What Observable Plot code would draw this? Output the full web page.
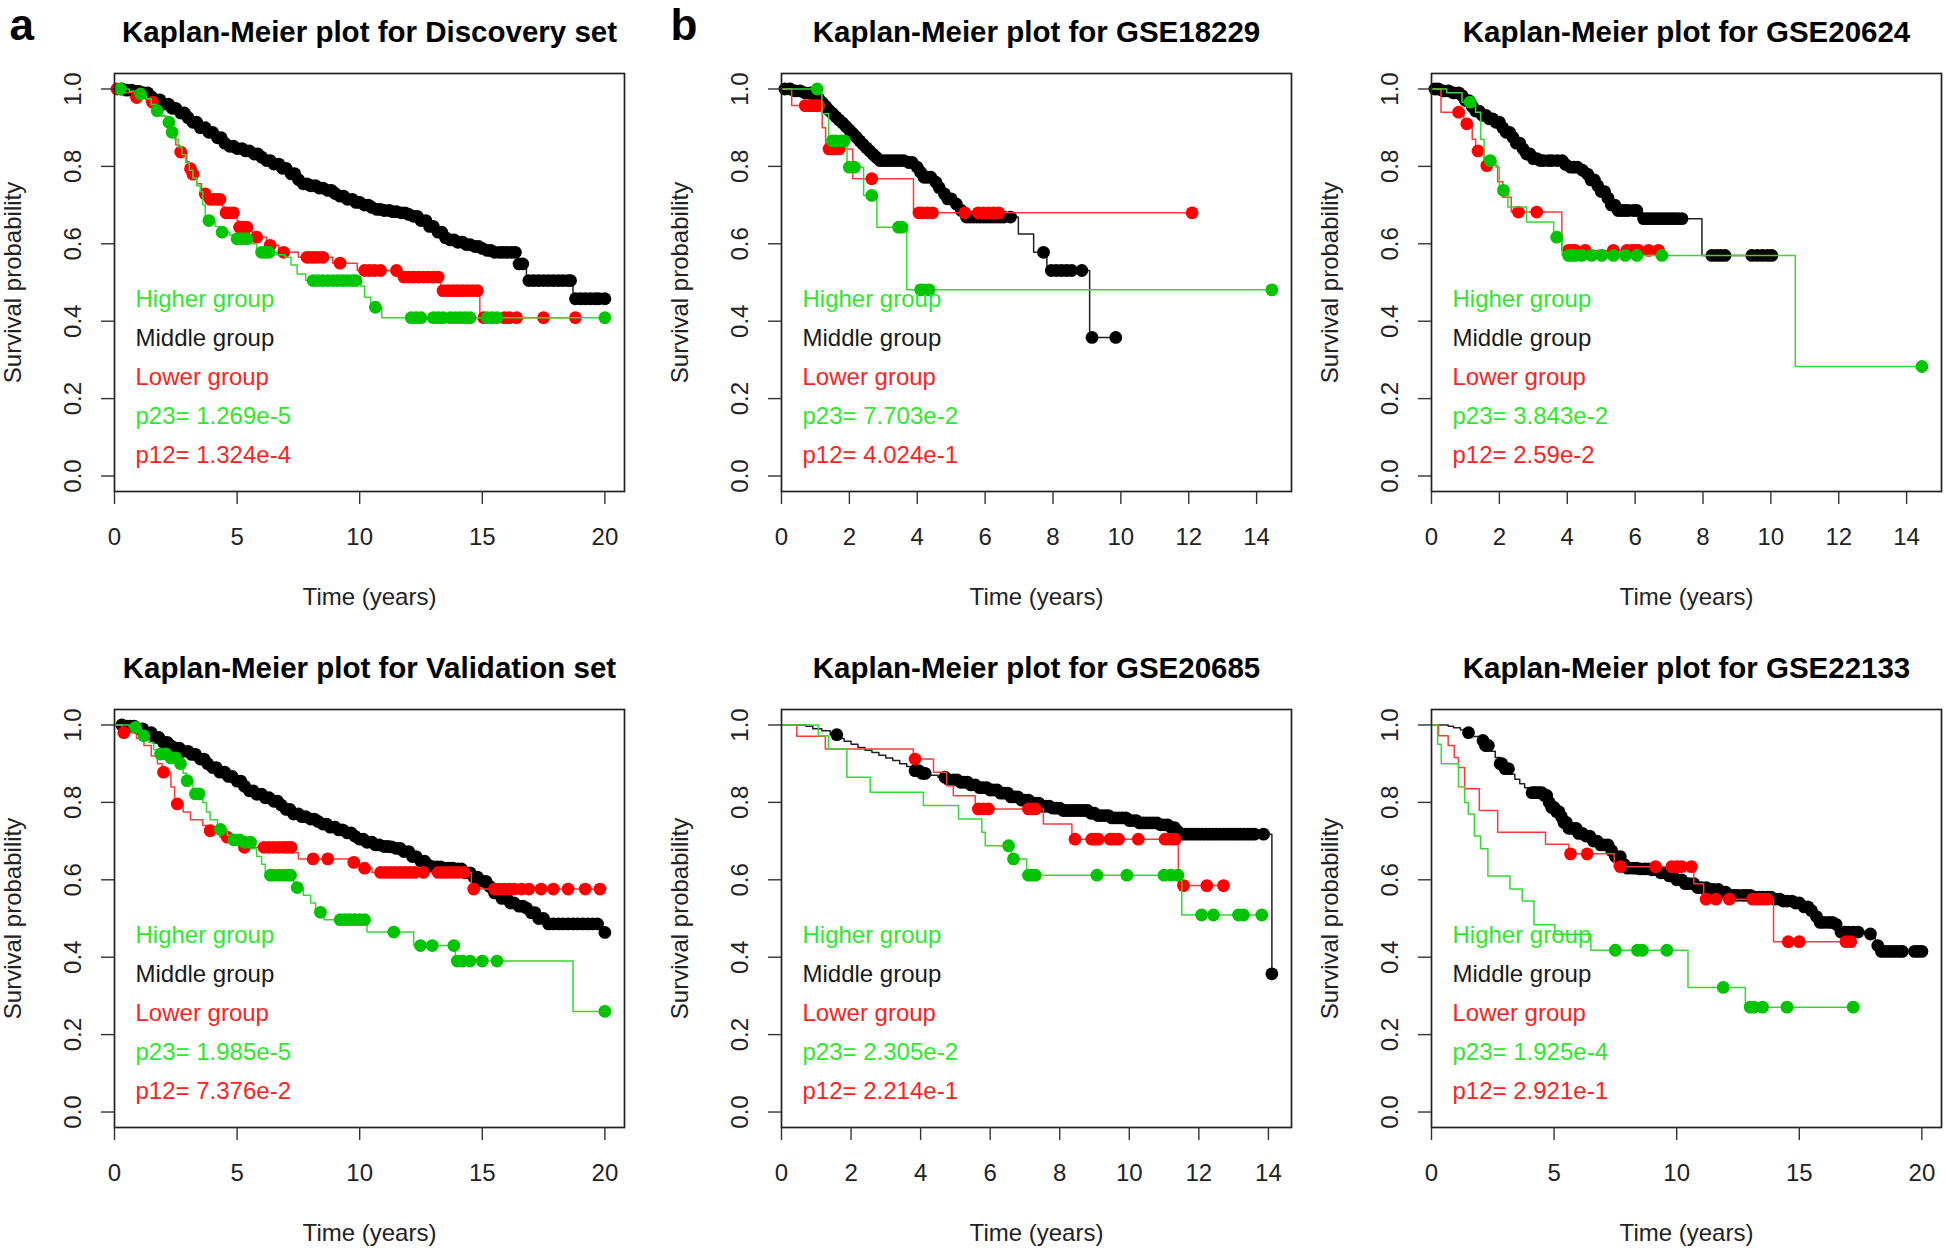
<!DOCTYPE html>
<html>
<head>
<meta charset="utf-8">
<script src="https://cdn.jsdelivr.net/npm/d3@7"></script>
<script src="https://cdn.jsdelivr.net/npm/@observablehq/plot@0.6"></script>
<style>
  body { margin: 0; background: #fff; }
  #page { position: relative; width: 1946px; height: 1250px; overflow: hidden; background: #fff;
          font-family: "Liberation Sans", Arial, Helvetica, sans-serif; }
  .panel { position: absolute; }
</style>
</head>
<body>
<div id="page"></div>
<script>
// ---------------- text / ticks ----------------
const panelTitles = [
  "Kaplan-Meier plot for Discovery set",
  "Kaplan-Meier plot for GSE18229",
  "Kaplan-Meier plot for GSE20624",
  "Kaplan-Meier plot for Validation set",
  "Kaplan-Meier plot for GSE20685",
  "Kaplan-Meier plot for GSE22133"
];
const panelTags = ["a", "b", "", "", "", ""];
const groupLabels = ["Higher group", "Middle group", "Lower group"];
const p23Values = ["1.269e-5", "7.703e-2", "3.843e-2", "1.985e-5", "2.305e-2", "1.925e-4"];
const p12Values = ["1.324e-4", "4.024e-1", "2.59e-2", "7.376e-2", "2.214e-1", "2.921e-1"];
const yTicks = [0, 0.2, 0.4, 0.6, 0.8, 1.0];
const xTicks20 = [0, 5, 10, 15, 20];
const xTicks14 = [0, 2, 4, 6, 8, 10, 12, 14];
const maxTimes = [20, 14.45, 14.45, 20, 14.1, 20];

// ---------------- survival curves: [time, survival after step] ----------------
// Discovery set
const discHigh = [[0,1],[0.6,0.994],[0.9,0.987],[1.3,0.975],[1.5,0.96],[1.7,0.944],[1.95,0.93],[2.1,0.914],[2.3,0.888],[2.45,0.87],[2.6,0.85],[2.75,0.83],[2.9,0.81],[3.05,0.79],[3.2,0.77],[3.35,0.75],[3.5,0.735],[3.6,0.7],[3.7,0.66],[4.1,0.645],[4.3,0.63],[4.7,0.622],[4.9,0.613],[5.6,0.6],[5.8,0.578],[6.6,0.572],[6.95,0.565],[7.2,0.545],[7.45,0.522],[7.8,0.505],[10.05,0.49],[10.2,0.462],[10.45,0.436],[10.9,0.409],[20,0.409]];
const discHighCens = [0.24,1.06,1.74,2.22,2.35,3.85,4.39,5.0,5.2,5.4,6.0,6.15,6.3,8.1,8.3,8.5,8.7,8.9,9.1,9.3,9.5,9.7,9.85,10.64,12.1,12.3,12.5,13.0,13.2,13.4,13.7,13.9,14.1,14.3,14.5,15.2,15.4,15.6,20.0];
const discLow = [[0,1],[0.3,0.99],[0.8,0.978],[1.3,0.966],[1.7,0.95],[1.9,0.93],[2.1,0.905],[2.3,0.88],[2.5,0.855],[2.65,0.837],[2.95,0.812],[3.05,0.794],[3.15,0.78],[3.35,0.755],[3.55,0.729],[3.8,0.715],[4.4,0.695],[4.5,0.68],[5.0,0.66],[5.05,0.643],[5.6,0.63],[5.7,0.617],[6.2,0.596],[6.7,0.578],[7.5,0.565],[8.9,0.55],[9.9,0.531],[11.7,0.514],[13.3,0.479],[14.9,0.409],[18.8,0.409]];
const discLowCens = [0.1,0.9,1.55,2.7,3.1,3.2,3.7,3.9,4.05,4.2,4.3,4.55,4.7,4.85,5.1,5.25,5.4,5.8,6.35,6.9,7.85,8.0,8.15,8.3,8.5,9.2,10.2,10.4,10.6,10.85,11.5,11.8,12.0,12.2,12.4,12.6,12.8,13.0,13.2,13.4,13.6,13.8,14.0,14.2,14.4,14.6,14.8,15.06,15.9,16.1,16.4,17.5,18.8];
const discMid = [[0,1],[0.5,0.997],[0.8,0.994],[1.1,0.99],[1.4,0.98],[1.7,0.972],[2.0,0.961],[2.3,0.95],[2.6,0.938],[2.9,0.926],[3.2,0.914],[3.5,0.9],[3.8,0.888],[4.1,0.874],[4.4,0.86],[4.7,0.852],[5.0,0.846],[5.3,0.84],[5.6,0.832],[5.9,0.824],[6.2,0.815],[6.5,0.806],[6.8,0.795],[7.1,0.781],[7.4,0.766],[7.7,0.755],[8.0,0.75],[8.3,0.744],[8.6,0.738],[8.9,0.73],[9.2,0.723],[9.5,0.715],[9.8,0.707],[10.1,0.7],[10.4,0.694],[10.7,0.689],[11.0,0.686],[11.3,0.683],[11.6,0.68],[11.9,0.676],[12.2,0.671],[12.5,0.66],[12.8,0.645],[13.1,0.63],[13.4,0.616],[13.7,0.61],[14.0,0.604],[14.3,0.598],[14.6,0.593],[14.9,0.588],[15.2,0.583],[15.5,0.578],[16.45,0.548],[16.8,0.505],[18.7,0.458],[20,0.458]];
const discMidCens = [0.3,0.5,0.7,0.85,1.0,1.2,1.35,1.5,1.7,1.85,2.0,2.2,2.35,2.5,2.7,2.85,3.0,3.2,3.35,3.5,3.7,3.85,4.0,4.2,4.35,4.5,4.7,4.85,5.0,5.2,5.35,5.5,5.7,5.85,6.0,6.2,6.35,6.5,6.7,6.85,7.0,7.2,7.35,7.5,7.7,7.85,8.0,8.2,8.35,8.5,8.7,8.85,9.0,9.2,9.35,9.5,9.7,9.85,10.0,10.2,10.35,10.5,10.7,10.85,11.0,11.2,11.35,11.5,11.7,11.85,12.0,12.2,12.35,12.5,12.7,12.85,13.0,13.2,13.35,13.5,13.7,13.85,14.0,14.2,14.35,14.5,14.7,14.85,15.0,15.2,15.35,15.5,15.7,15.85,16.0,16.2,16.35,16.5,16.65,16.9,17.1,17.3,17.5,17.7,17.9,18.1,18.3,18.5,18.6,18.8,19.0,19.2,19.4,19.6,19.75,20.0];

// GSE18229
const g18229High = [[0,1],[1.19,0.936],[1.39,0.866],[1.93,0.798],[2.42,0.725],[2.81,0.643],[3.69,0.481],[14.45,0.481]];
const g18229HighCens = [1.05,1.5,1.6,1.75,1.85,2.0,2.15,2.66,3.45,3.55,4.1,4.2,4.35,14.45];
const g18229Low = [[0,1],[0.3,0.957],[1.2,0.9],[1.3,0.845],[2.1,0.768],[3.89,0.68],[12.1,0.68]];
const g18229LowCens = [0.7,0.8,0.9,1.0,1.1,1.4,1.5,1.6,1.7,2.66,4.05,4.15,4.3,4.45,5.4,5.8,5.95,6.1,6.25,6.4,12.1];
const g18229Mid = [[0,1],[0.4,0.995],[0.7,0.99],[0.9,0.985],[1.05,0.975],[1.2,0.965],[1.3,0.955],[1.4,0.945],[1.5,0.937],[1.6,0.928],[1.7,0.92],[1.8,0.912],[1.9,0.903],[2.0,0.894],[2.1,0.885],[2.2,0.876],[2.3,0.866],[2.4,0.857],[2.5,0.848],[2.6,0.84],[2.7,0.831],[2.8,0.823],[2.9,0.815],[3.7,0.81],[3.95,0.798],[4.05,0.785],[4.15,0.772],[4.5,0.759],[4.62,0.745],[4.72,0.729],[4.9,0.716],[5.1,0.703],[5.25,0.686],[5.4,0.669],[6.98,0.625],[7.43,0.578],[7.82,0.531],[9.08,0.358],[9.88,0.358]];
const g18229MidCens = [0.1,0.25,0.4,0.55,0.7,0.85,0.95,1.1,1.2,1.3,1.4,1.5,1.6,1.7,1.8,1.9,2.0,2.1,2.2,2.3,2.4,2.5,2.6,2.7,2.8,2.9,3.0,3.1,3.2,3.3,3.4,3.5,3.6,3.75,3.85,4.0,4.1,4.2,4.3,4.4,4.55,4.65,4.8,4.9,5.0,5.15,5.3,5.45,5.55,5.65,5.75,5.85,5.95,6.05,6.15,6.25,6.35,6.45,6.55,6.75,7.72,7.95,8.1,8.25,8.4,8.55,8.85,9.15,9.85];

// GSE20624
const g20624High = [[0,1],[0.45,0.99],[0.9,0.966],[1.3,0.94],[1.45,0.87],[1.55,0.815],[1.9,0.798],[2.0,0.738],[2.25,0.695],[2.8,0.656],[3.6,0.617],[3.85,0.57],[10.72,0.283],[14.45,0.283]];
const g20624HighCens = [1.14,1.73,2.12,3.69,4.04,4.15,4.25,4.43,4.72,5.02,5.36,5.71,6.05,6.79,14.45];
const g20624Low = [[0,1],[0.28,0.94],[0.95,0.91],[1.2,0.87],[1.3,0.84],[1.55,0.802],[1.95,0.76],[2.1,0.72],[2.35,0.682],[3.84,0.583],[6.7,0.583]];
const g20624LowCens = [0.8,1.04,1.37,1.63,2.56,3.1,4.04,4.15,4.23,4.53,5.36,5.76,5.9,6.0,6.1,6.4,6.69];
const g20624Mid = [[0,1],[0.3,0.995],[0.6,0.99],[0.85,0.983],[1.0,0.97],[1.15,0.955],[1.3,0.943],[1.5,0.932],[1.7,0.923],[1.9,0.914],[2.05,0.9],[2.2,0.888],[2.35,0.875],[2.5,0.86],[2.65,0.845],[2.8,0.832],[3.0,0.82],[3.15,0.815],[3.9,0.805],[4.05,0.798],[4.35,0.79],[4.55,0.78],[4.7,0.765],[4.85,0.75],[5.0,0.735],[5.15,0.718],[5.3,0.7],[5.41,0.686],[6.2,0.665],[7.97,0.57],[10.03,0.57]];
const g20624MidCens = [0.1,0.2,0.35,0.5,0.65,0.8,0.9,1.0,1.1,1.2,1.3,1.4,1.5,1.6,1.7,1.8,1.9,2.0,2.1,2.2,2.3,2.4,2.5,2.6,2.7,2.8,2.9,3.0,3.1,3.2,3.3,3.45,3.55,3.7,3.85,3.95,4.1,4.2,4.3,4.45,4.6,4.7,4.8,4.9,5.0,5.1,5.2,5.3,5.4,5.5,5.6,5.7,5.8,5.95,6.05,6.25,6.35,6.45,6.55,6.65,6.75,6.85,6.95,7.05,7.15,7.25,7.38,8.26,8.4,8.52,8.65,9.44,9.6,9.75,9.9,10.03];

// Validation set
const valHigh = [[0,1],[0.6,0.994],[1.1,0.972],[1.4,0.955],[1.6,0.936],[1.8,0.925],[2.2,0.915],[2.6,0.9],[2.8,0.875],[2.95,0.856],[3.2,0.835],[3.3,0.822],[3.6,0.8],[3.75,0.775],[3.9,0.755],[4.2,0.73],[4.6,0.715],[4.8,0.703],[5.3,0.697],[5.6,0.68],[5.8,0.66],[6.0,0.64],[6.15,0.619],[6.3,0.612],[7.3,0.595],[7.4,0.58],[7.7,0.56],[8.0,0.54],[8.2,0.516],[8.55,0.497],[10.3,0.465],[12.2,0.43],[13.9,0.39],[18.7,0.26],[20,0.26]];
const valHighCens = [0.86,1.2,1.88,2.1,2.3,2.5,2.69,2.96,3.3,3.45,4.32,4.87,5.1,5.3,5.55,6.36,6.5,6.7,6.9,7.05,7.18,7.45,8.4,9.2,9.4,9.6,9.8,10.0,10.2,11.39,12.48,12.96,13.84,13.98,14.2,14.5,15.0,15.6,20.0];
const valLow = [[0,1],[0.3,0.98],[0.9,0.965],[1.2,0.947],[1.5,0.92],[1.75,0.9],[1.95,0.878],[2.3,0.84],[2.45,0.796],[2.8,0.775],[3.1,0.755],[3.6,0.74],[3.85,0.727],[4.3,0.71],[4.7,0.695],[5.1,0.684],[7.25,0.67],[7.5,0.654],[9.7,0.645],[10.0,0.63],[10.5,0.619],[14.55,0.576],[19.8,0.576]];
const valLowCens = [0.38,2.0,2.56,3.9,4.6,5.3,6.1,6.3,6.5,6.7,6.9,7.05,7.2,8.1,8.7,9.76,10.2,10.85,11.05,11.25,11.45,11.65,11.85,12.05,12.25,12.6,13.2,13.4,13.6,13.8,14.0,14.25,14.65,15.5,15.7,15.9,16.1,16.3,16.6,16.9,17.4,17.9,18.5,19.2,19.8];
const valMid = [[0,1],[0.5,0.997],[1.0,0.99],[1.3,0.98],[1.6,0.968],[1.9,0.955],[2.2,0.946],[2.5,0.94],[2.8,0.932],[3.1,0.924],[3.4,0.912],[3.7,0.9],[4.0,0.89],[4.3,0.878],[4.6,0.867],[4.9,0.855],[5.2,0.842],[5.5,0.83],[5.8,0.821],[6.1,0.812],[6.4,0.803],[6.7,0.793],[7.0,0.782],[7.3,0.77],[7.6,0.763],[7.9,0.757],[8.2,0.751],[8.5,0.744],[8.8,0.736],[9.1,0.729],[9.4,0.721],[9.7,0.713],[10.0,0.705],[10.3,0.697],[10.6,0.69],[10.9,0.686],[11.2,0.685],[11.5,0.681],[11.8,0.673],[12.1,0.66],[12.4,0.648],[12.7,0.638],[13.0,0.633],[13.5,0.63],[14.0,0.628],[14.3,0.618],[14.6,0.607],[14.9,0.596],[15.2,0.583],[15.5,0.566],[15.8,0.552],[16.1,0.54],[16.4,0.532],[16.7,0.527],[17.0,0.515],[17.3,0.5],[17.6,0.486],[19.9,0.464],[20,0.464]];
const valMidCens = [0.3,0.5,0.65,0.8,1.0,1.15,1.3,1.5,1.65,1.8,2.0,2.15,2.3,2.5,2.65,2.8,3.0,3.15,3.3,3.5,3.65,3.8,4.0,4.15,4.3,4.5,4.65,4.8,5.0,5.15,5.3,5.5,5.65,5.8,6.0,6.15,6.3,6.5,6.65,6.8,7.0,7.15,7.3,7.5,7.65,7.8,8.0,8.15,8.3,8.5,8.65,8.8,9.0,9.15,9.3,9.5,9.65,9.8,10.0,10.15,10.3,10.5,10.65,10.8,11.0,11.15,11.3,11.5,11.65,11.8,12.0,12.15,12.3,12.5,12.65,12.8,13.0,13.15,13.3,13.5,13.65,13.8,14.0,14.15,14.3,14.5,14.65,14.8,15.0,15.15,15.3,15.5,15.65,15.8,16.0,16.15,16.3,16.5,16.65,16.8,17.0,17.15,17.3,17.5,17.7,17.9,18.1,18.3,18.5,18.7,18.9,19.1,19.3,19.5,19.7,20.0];

// GSE20685
const g20685High = [[0,1],[1.06,0.972],[1.35,0.938],[1.88,0.865],[2.55,0.826],[4.08,0.792],[5.09,0.757],[5.76,0.723],[5.86,0.688],[6.6,0.654],[7.05,0.612],[11.51,0.509],[13.81,0.509]];
const g20685HighCens = [6.53,6.67,7.1,7.2,7.3,9.07,9.93,11.0,11.2,11.4,12.08,12.42,13.14,13.28,13.81];
const g20685Low = [[0,1],[0.44,0.971],[1.26,0.938],[3.79,0.912],[4.37,0.878],[4.75,0.843],[4.94,0.817],[5.57,0.783],[7.53,0.744],[8.35,0.705],[11.41,0.585],[12.71,0.585]];
const g20685LowCens = [3.84,5.66,5.8,5.95,7.1,7.2,7.3,8.44,8.92,9.0,9.11,9.45,9.55,9.69,10.26,11.03,11.2,11.32,11.56,12.23,12.71];
const g20685Mid = [[0,1],[0.7,0.997],[0.9,0.99],[1.16,0.985],[1.4,0.975],[1.6,0.965],[1.8,0.958],[2.0,0.95],[2.2,0.942],[2.4,0.935],[2.6,0.929],[2.8,0.922],[3.0,0.915],[3.2,0.908],[3.4,0.9],[3.6,0.893],[3.8,0.882],[4.0,0.875],[4.2,0.87],[4.5,0.865],[4.8,0.858],[5.1,0.852],[5.4,0.845],[5.7,0.838],[6.0,0.832],[6.3,0.824],[6.6,0.814],[6.9,0.806],[7.2,0.798],[7.5,0.79],[7.8,0.785],[8.1,0.779],[8.9,0.772],[9.1,0.766],[9.5,0.76],[10.0,0.753],[10.3,0.747],[10.9,0.742],[11.2,0.735],[11.35,0.725],[11.45,0.718],[14.1,0.357]];
const g20685MidCens = [1.59,3.84,3.95,4.05,4.13,4.7,4.82,4.95,5.05,5.15,5.25,5.35,5.45,5.57,5.7,5.8,5.9,6.0,6.1,6.2,6.3,6.4,6.5,6.6,6.7,6.8,6.9,7.0,7.1,7.2,7.3,7.4,7.5,7.6,7.7,7.8,7.9,8.0,8.1,8.2,8.3,8.4,8.5,8.6,8.7,8.8,8.9,9.0,9.1,9.2,9.3,9.4,9.5,9.6,9.7,9.8,9.9,10.0,10.1,10.2,10.3,10.4,10.5,10.6,10.7,10.8,10.9,11.0,11.1,11.2,11.3,11.4,11.5,11.6,11.7,11.8,11.9,12.0,12.1,12.2,12.3,12.4,12.5,12.6,12.7,12.8,12.9,13.0,13.1,13.2,13.3,13.4,13.5,13.6,13.86,14.1];

// GSE22133
const g22133High = [[0,1],[0.25,0.95],[0.4,0.9],[1.1,0.84],[1.35,0.8],[1.5,0.77],[1.75,0.713],[2.0,0.68],[2.3,0.61],[3.2,0.576],[3.7,0.545],[4.18,0.484],[5.03,0.459],[6.5,0.418],[10.46,0.322],[12.8,0.271],[17.2,0.271]];
const g22133HighCens = [7.5,8.4,8.6,9.6,11.9,13.0,13.15,13.5,14.5,17.2];
const g22133Low = [[0,1],[0.29,0.972],[0.68,0.947],[0.93,0.916],[1.1,0.89],[1.35,0.835],[1.95,0.779],[2.7,0.723],[4.65,0.692],[5.6,0.667],[7.45,0.634],[10.7,0.59],[11.1,0.55],[13.95,0.44],[17.1,0.44]];
const g22133LowCens = [5.67,6.35,7.7,9.14,9.8,10.0,10.2,10.6,11.2,11.6,12.15,13.1,13.3,13.5,13.7,14.55,15.0,16.9,17.1];
const g22133Mid = [[0,1],[0.68,0.997],[0.9,0.993],[1.18,0.987],[1.4,0.98],[1.7,0.97],[1.95,0.96],[2.2,0.947],[2.4,0.932],[2.6,0.916],[2.8,0.9],[3.0,0.887],[3.2,0.873],[3.4,0.86],[3.6,0.848],[3.8,0.838],[4.06,0.825],[4.6,0.818],[4.75,0.8],[4.9,0.787],[5.05,0.776],[5.25,0.763],[5.4,0.748],[5.6,0.733],[5.92,0.72],[6.2,0.713],[6.6,0.7],[6.9,0.69],[7.28,0.675],[7.5,0.66],[7.78,0.64],[7.95,0.63],[8.5,0.628],[8.97,0.626],[9.3,0.618],[9.65,0.61],[10.0,0.6],[10.32,0.59],[10.8,0.58],[11.34,0.575],[11.8,0.568],[12.18,0.56],[13.03,0.555],[13.87,0.55],[14.3,0.545],[14.72,0.54],[15.1,0.53],[15.4,0.52],[15.6,0.505],[15.74,0.49],[16.4,0.485],[16.58,0.465],[17.7,0.46],[18.1,0.43],[18.27,0.415],[20,0.415]];
const g22133MidCens = [1.51,2.1,2.2,2.32,2.8,2.87,3.0,3.14,4.1,4.2,4.3,4.4,4.5,4.6,4.7,4.8,4.9,5.0,5.1,5.2,5.3,5.4,5.5,5.6,5.7,5.8,5.9,6.0,6.15,6.3,6.45,6.6,6.75,6.9,7.05,7.2,7.35,7.5,7.7,7.85,8.0,8.2,8.35,8.5,8.7,8.85,9.0,9.2,9.35,9.5,9.7,9.85,10.0,10.2,10.35,10.5,10.7,10.85,11.0,11.2,11.35,11.5,11.7,11.85,12.0,12.2,12.35,12.5,12.7,12.85,13.0,13.2,13.35,13.5,13.7,13.85,14.0,14.2,14.35,14.5,14.7,14.85,15.0,15.2,15.35,15.5,15.7,15.85,16.0,16.2,16.35,16.5,16.7,16.85,17.0,17.2,17.4,17.9,18.2,18.35,18.5,18.65,18.8,18.95,19.1,19.2,19.7,19.85,20.0];

// ---------------- styling ----------------
const COL = {
  high: {line: "#35d835", dot: "#00c400", text: "#2ee82e"},
  mid:  {line: "#222222", dot: "#000000", text: "#1a1a1a"},
  low:  {line: "#ff3a3a", dot: "#ff0000", text: "#ff2222"}
};
const FONT = '"Liberation Sans", Arial, Helvetica, sans-serif';
const BOX_W = 510, BOX_H = 418, ML = 114, MT = 73, MB = 120, MR = 4;
const boxLefts = [114, 781, 1431];
const boxTops = [73, 709];
const DOT_R = 6.4;

const panelCurves = [
  {high: discHigh, highC: discHighCens, mid: discMid, midC: discMidCens, low: discLow, lowC: discLowCens, xt: xTicks20},
  {high: g18229High, highC: g18229HighCens, mid: g18229Mid, midC: g18229MidCens, low: g18229Low, lowC: g18229LowCens, xt: xTicks14},
  {high: g20624High, highC: g20624HighCens, mid: g20624Mid, midC: g20624MidCens, low: g20624Low, lowC: g20624LowCens, xt: xTicks14},
  {high: valHigh, highC: valHighCens, mid: valMid, midC: valMidCens, low: valLow, lowC: valLowCens, xt: xTicks20},
  {high: g20685High, highC: g20685HighCens, mid: g20685Mid, midC: g20685MidCens, low: g20685Low, lowC: g20685LowCens, xt: xTicks14},
  {high: g22133High, highC: g22133HighCens, mid: g22133Mid, midC: g22133MidCens, low: g22133Low, lowC: g22133LowCens, xt: xTicks20}
];

// survival value of a step curve at time t (where a censoring mark sits)
function survAt(steps, t) {
  let s = 1;
  for (const [ti, si] of steps) { if (ti <= t + 1e-9) s = si; else break; }
  return s;
}

const page = document.getElementById("page");

panelCurves.forEach((pc, i) => {
  const col = i % 3, row = Math.floor(i / 3);
  const D = 1.04 * maxTimes[i];
  const marks = [];

  // curves: middle (black) first, then lower (red), then higher (green) on top
  const order = [["mid", pc.mid, pc.midC], ["low", pc.low, pc.lowC], ["high", pc.high, pc.highC]];
  for (const [key, steps, cens] of order) {
    marks.push(Plot.line(steps, {x: d => d[0], y: d => d[1], curve: "step-after",
      stroke: COL[key].line, strokeWidth: 1.5}));
    marks.push(Plot.dot(cens.map(t => ({t, s: survAt(steps, t)})), {x: "t", y: "s", r: DOT_R,
      fill: COL[key].dot, stroke: "none"}));
  }

  // box and axes
  marks.push(Plot.frame({stroke: "#222", strokeWidth: 1.7}));
  marks.push(Plot.axisY(yTicks, {tickSize: 13, tickFormat: () => "", stroke: "#333", strokeWidth: 1.4, label: null}));
  marks.push(Plot.axisX(pc.xt, {tickSize: 13, tickFormat: () => "", stroke: "#333", strokeWidth: 1.4, label: null}));
  marks.push(Plot.text(yTicks, {y: d => d, text: d => d.toFixed(1), frameAnchor: "left", dx: -41,
    rotate: -90, fontSize: 24, textAnchor: "middle", lineAnchor: "middle", fill: "#222"}));
  marks.push(Plot.text(pc.xt, {x: d => d, text: d => String(d), frameAnchor: "bottom", dy: 46,
    fontSize: 24, lineAnchor: "middle", fill: "#222"}));
  marks.push(Plot.text(["Time (years)"], {text: d => d, frameAnchor: "bottom", dy: 106,
    fontSize: 24, lineAnchor: "middle", fill: "#222"}));
  marks.push(Plot.text(["Survival probability"], {text: d => d, frameAnchor: "left", dx: -101,
    rotate: -90, fontSize: 24, textAnchor: "middle", lineAnchor: "middle", fill: "#222"}));
  marks.push(Plot.text([panelTitles[i]], {text: d => d, frameAnchor: "top", dy: -41,
    fontSize: 29.5, fontWeight: "bold", lineAnchor: "middle", fill: "#000"}));
  if (panelTags[i]) {
    marks.push(Plot.text([panelTags[i]], {text: d => d, frameAnchor: "top-left",
      dx: (i === 0 ? 9 : 670) - boxLefts[col], dy: 39 - boxTops[row],
      fontSize: 44, fontWeight: "bold", textAnchor: "start", lineAnchor: "bottom", fill: "#000"}));
  }

  // legend text block (bottom-left inside the box)
  const legendLines = [
    {text: groupLabels[0], fill: COL.high.text},
    {text: groupLabels[1], fill: COL.mid.text},
    {text: groupLabels[2], fill: COL.low.text},
    {text: "p23= " + p23Values[i], fill: COL.high.text},
    {text: "p12= " + p12Values[i], fill: COL.low.text}
  ];
  legendLines.forEach((l, k) => {
    marks.push(Plot.text([l.text], {text: d => d, frameAnchor: "bottom-left", dx: 21,
      dy: -(192 - k * 39), fontSize: 24, textAnchor: "start", lineAnchor: "middle", fill: l.fill}));
  });

  const svg = Plot.plot({
    width: ML + BOX_W + MR,
    height: MT + BOX_H + MB,
    marginLeft: ML, marginRight: MR, marginTop: MT, marginBottom: MB,
    x: {domain: [0, D]},
    y: {domain: [-0.04, 1.04]},
    style: {fontFamily: FONT, fontSize: "24px", background: "transparent", overflow: "visible"},
    marks
  });
  svg.classList.add("panel");
  svg.style.left = (boxLefts[col] - ML) + "px";
  svg.style.top = (boxTops[row] - MT) + "px";
  page.appendChild(svg);
});
</script>
</body>
</html>
